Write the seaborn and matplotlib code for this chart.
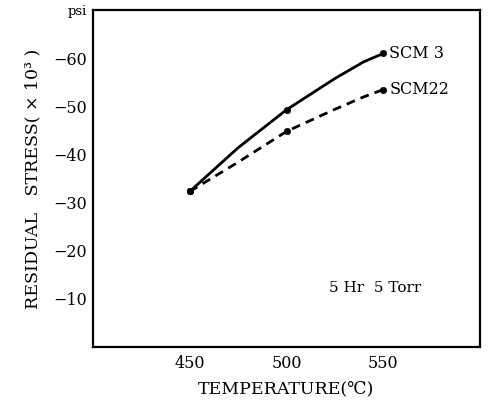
import matplotlib
matplotlib.use("Agg")
import matplotlib.pyplot as plt
import seaborn as sns
import pandas as pd

# Measured points (markers)
temps = [450, 500, 550]
scm3 = [-32.3, -49.3, -61.0]
scm22 = [-32.3, -44.8, -53.5]

# Curve readings
curve_temps = [450, 475, 500, 525, 540, 550]
scm3_curve = [-32.3, -41.4, -49.3, -55.8, -59.3, -61.0]
scm22_curve = [-32.3, -38.4, -44.8, -49.4, -52.0, -53.5]

xticks = [450, 500, 550]
yticks = [-10, -20, -30, -40, -50, -60]

sns.set_theme(style="white")
plt.rcParams["font.family"] = ["DejaVu Serif", "Liberation Serif"]
plt.rcParams["text.color"] = "black"

fig = plt.figure(figsize=(4.89, 4.08), dpi=100)
ax = fig.add_axes([0.19, 0.15, 0.792, 0.825])

curves = pd.DataFrame({
    "T": curve_temps * 2,
    "S": scm3_curve + scm22_curve,
    "steel": ["SCM 3"] * len(curve_temps) + ["SCM22"] * len(curve_temps),
})
pts = pd.DataFrame({
    "T": temps * 2,
    "S": scm3 + scm22,
    "steel": ["SCM 3"] * len(temps) + ["SCM22"] * len(temps),
})

sns.lineplot(data=curves, x="T", y="S", style="steel",
             dashes={"SCM 3": "", "SCM22": (3.2, 2.2)},
             color="black", linewidth=2, legend=False, ax=ax)
sns.scatterplot(data=pts, x="T", y="S", color="black", s=22,
                edgecolor="black", legend=False, ax=ax, zorder=5)

ax.set_xlim(400, 600)
ax.set_ylim(0, -70)
ax.set_xticks(xticks)
ax.set_xticklabels([str(t) for t in xticks])
ax.set_yticks(yticks + [-70])
ax.set_yticklabels(["\u2212%d" % (-v) for v in yticks] + ["psi"])
ax.tick_params(axis="both", direction="in", length=6, width=1.5,
               color="black", labelsize=11.5, pad=6, labelcolor="black")
ax.tick_params(axis="y", pad=4)
ytl = ax.get_yticklabels()
ytl[-1].set_fontsize(9.5)
ax.yaxis.get_major_ticks()[-1].tick1line.set_visible(False)

for sp in ax.spines.values():
    sp.set_color("black")
    sp.set_linewidth(1.6)

ax.set_xlabel("TEMPERATURE(\u2103)", fontsize=12.5, labelpad=6, color="black")
ax.set_ylabel("RESIDUAL   STRESS( \u00d7 10\u00b3 )", fontsize=12.5,
              labelpad=9, color="black")

ax.text(553, -61.0, "SCM 3", fontsize=11.5, va="center", ha="left", color="black")
ax.text(553, -53.5, "SCM22", fontsize=11.5, va="center", ha="left", color="black")
ax.text(522, -12.3, "5 Hr  5 Torr", fontsize=11, va="center", ha="left", color="black")

fig.savefig("out.png", dpi=100)
